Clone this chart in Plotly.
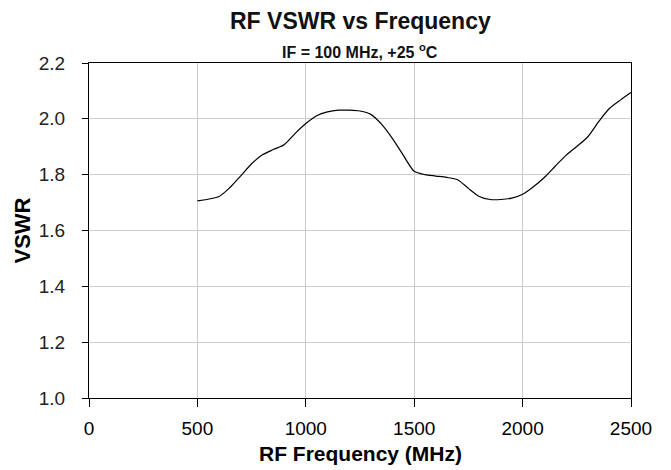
import plotly.graph_objects as go

freq_mhz = [500, 600, 650, 700, 750, 800, 850, 900, 950, 1000, 1050, 1100, 1150, 1200,
            1250, 1300, 1350, 1400, 1450, 1500, 1550, 1600, 1650, 1700, 1750, 1800,
            1850, 1900, 1950, 2000, 2050, 2100, 2150, 2200, 2250, 2300, 2350, 2400,
            2450, 2500]
vswr = [1.706, 1.722, 1.754, 1.796, 1.839, 1.871, 1.890, 1.907, 1.947, 1.983, 2.011,
        2.025, 2.031, 2.031, 2.028, 2.016, 1.980, 1.929, 1.869, 1.812, 1.800, 1.795,
        1.790, 1.782, 1.751, 1.722, 1.711, 1.711, 1.716, 1.730, 1.757, 1.790, 1.830,
        1.869, 1.901, 1.935, 1.989, 2.037, 2.067, 2.094]

x_ticks = [0, 500, 1000, 1500, 2000, 2500]
y_ticks = [1.0, 1.2, 1.4, 1.6, 1.8, 2.0, 2.2]
y_tick_text = ["1.0", "1.2", "1.4", "1.6", "1.8", "2.0", "2.2"]

font_family = "Liberation Sans, Arial, Helvetica, sans-serif"

fig = go.Figure()
fig.add_trace(go.Scatter(
    x=freq_mhz, y=vswr, mode="lines",
    line=dict(color="black", width=1.2, shape="spline", smoothing=0.7),
    showlegend=False, hoverinfo="skip"))

# page body has an 8px margin, so the figure is sized to fit the 671x470 window
fig.update_layout(
    width=663, height=462,
    margin=dict(l=81, r=40, t=55, b=72, autoexpand=False),
    paper_bgcolor="white", plot_bgcolor="white",
    font=dict(family=font_family, color="black", size=19),
    showlegend=False,
)

fig.update_xaxes(
    range=[0, 2500], tickvals=x_ticks, ticktext=[str(v) for v in x_ticks],
    showgrid=True, gridcolor="#cccccc", gridwidth=1,
    showline=True, linecolor="black", linewidth=1, mirror=True,
    ticks="outside", ticklen=8, tickcolor="black", tickwidth=1,
    ticklabelstandoff=5, automargin=False,
    tickfont=dict(size=19, family=font_family, color="black"),
    zeroline=False,
)
fig.update_yaxes(
    range=[1.0, 2.2], tickvals=y_ticks, ticktext=y_tick_text,
    showgrid=True, gridcolor="#cccccc", gridwidth=1,
    showline=True, linecolor="black", linewidth=1, mirror=True,
    ticks="outside", ticklen=6, tickcolor="black", tickwidth=1,
    ticklabelstandoff=13, automargin=False,
    tickfont=dict(size=19, family=font_family, color="#222"),
    zeroline=False,
)

fig.add_annotation(text="<b>RF VSWR vs Frequency</b>", xref="paper", yref="paper",
                   x=0.5, y=1, yshift=42, xanchor="center", yanchor="middle",
                   showarrow=False, font=dict(size=23, family=font_family, color="#111"))
fig.add_annotation(text="<b>IF = 100 MHz, +25 <sup>o</sup>C</b>", xref="paper", yref="paper",
                   x=0.5, y=1, yshift=12, xanchor="center", yanchor="middle",
                   showarrow=False, font=dict(size=16, family=font_family, color="#111"))
fig.add_annotation(text="<b>RF Frequency (MHz)</b>", xref="paper", yref="paper",
                   x=0.5, y=0, yshift=-55, xanchor="center", yanchor="middle",
                   showarrow=False, font=dict(size=21, family=font_family, color="black"))
fig.add_annotation(text="<b>VSWR</b>", xref="paper", yref="paper",
                   x=0, xshift=-67, y=0.5, xanchor="center", yanchor="middle", textangle=-90,
                   showarrow=False, font=dict(size=22, family=font_family, color="black"))

fig.write_html("out.html")
